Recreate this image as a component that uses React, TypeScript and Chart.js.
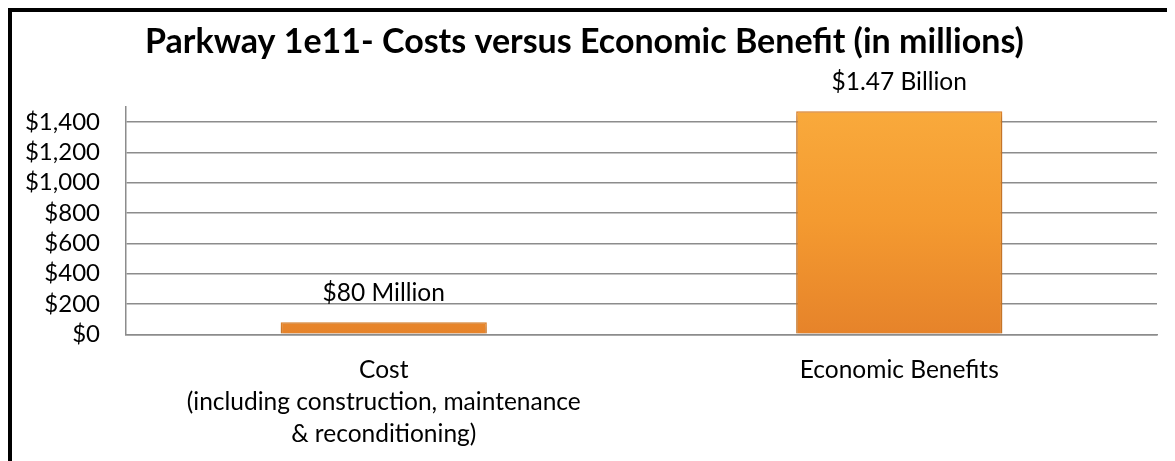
import React, { useEffect, useRef } from "react";
import { Chart, registerables } from "chart.js";

Chart.register(...registerables);

const categoryKeys = ["Cost", "Economic Benefits"];
const xLabels: (string | string[])[] = [
  ["Cost", "(including construction, maintenance", "& reconditioning)"],
  "Economic Benefits",
];
const values = [80, 1470];
const valueLabels = ["$80 Million", "$1.47 Billion"];
const titleText = "Parkway 1e11- Costs versus Economic Benefit (in millions)";
const yMax = 1500;
const yTicks = [0, 200, 400, 600, 800, 1000, 1200, 1400];

const FONT = "Lato, 'Open Sans', sans-serif";

export default function App() {
  const ref = useRef<HTMLCanvasElement | null>(null);
  useEffect(() => {
    if (!ref.current) return;
    const labelPlugin = {
      id: "valueLabels",
      beforeDatasetsDraw(chart: any) {
        const ctx = chart.ctx;
        ctx.save();
        ctx.shadowColor = "rgba(0,0,0,0.28)";
        ctx.shadowBlur = 6;
        ctx.shadowOffsetY = 3;
      },
      afterDatasetsDraw(chart: any) {
        const ctx = chart.ctx;
        ctx.restore();
        const meta = chart.getDatasetMeta(0);
        ctx.save();
        ctx.font = `24.5px ${FONT}`;
        ctx.fillStyle = "#000";
        ctx.textAlign = "center";
        ctx.textBaseline = "middle";
        meta.data.forEach((el: any, i: number) => {
          ctx.fillText(valueLabels[i], el.x, el.y - 29);
        });
        ctx.restore();
      },
    };
    const chart = new Chart(ref.current, {
      type: "bar",
      data: {
        labels: xLabels as any,
        datasets: [
          {
            data: values,
            backgroundColor: (c: any) => {
              const area = c.chart.chartArea;
              if (!area) return "#F39A2E";
              const g = c.chart.ctx.createLinearGradient(0, area.top, 0, area.bottom);
              g.addColorStop(0, "#F9AA3C");
              g.addColorStop(0.5, "#F49A30");
              g.addColorStop(1, "#E6832A");
              return g;
            },
            borderColor: "#E0842C",
            borderWidth: 1.5,
            barPercentage: 0.4,
            categoryPercentage: 1,
          },
        ],
      },
      options: {
        animation: false,
        responsive: false,
        layout: { padding: { left: 0, right: 18, top: 0, bottom: 0 } },
        plugins: {
          legend: { display: false },
          tooltip: { enabled: false },
          title: {
            display: true,
            text: titleText,
            color: "#000",
            font: { family: FONT, size: 34, weight: "bold", lineHeight: 1.2 },
            padding: { top: 10, bottom: 44 },
          },
        },
        scales: {
          x: {
            grid: { display: false, drawTicks: false },
            border: { display: true, color: "#8c8c8c", width: 1.5 },
            ticks: {
              color: "#000",
              font: { family: FONT, size: 24.5, lineHeight: 1.31 },
              padding: 20,
              maxRotation: 0,
              autoSkip: false,
            },
            afterFit: (s: any) => {
              s.height = 449 - 322.3;
            },
          },
          y: {
            min: 0,
            max: yMax,
            grid: { color: "#8c8c8c", lineWidth: 1.5, drawTicks: false },
            border: { display: true, color: "#8c8c8c", width: 1.5 },
            ticks: {
              color: "#000",
              padding: 26,
              autoSkip: false,
              font: { family: FONT, size: 24 },
              callback: (v: any) => "$" + Number(v).toLocaleString("en-US"),
            },
            afterBuildTicks: (s: any) => {
              s.ticks = yTicks.map((v) => ({ value: v }));
            },
            afterFit: (s: any) => {
              s.width = 114;
            },
          },
        },
      },
      plugins: [labelPlugin],
    });
    return () => chart.destroy();
  }, []);
  return (
    <div
      style={{
        width: 1167,
        height: 453,
        borderTop: "4px solid #000",
        borderLeft: "4px solid #000",
        boxSizing: "border-box",
        overflow: "hidden",
        background: "#fff",
      }}
    >
      <canvas ref={ref} width={1163} height={449} data-keys={categoryKeys.join("|")} />
    </div>
  );
}
